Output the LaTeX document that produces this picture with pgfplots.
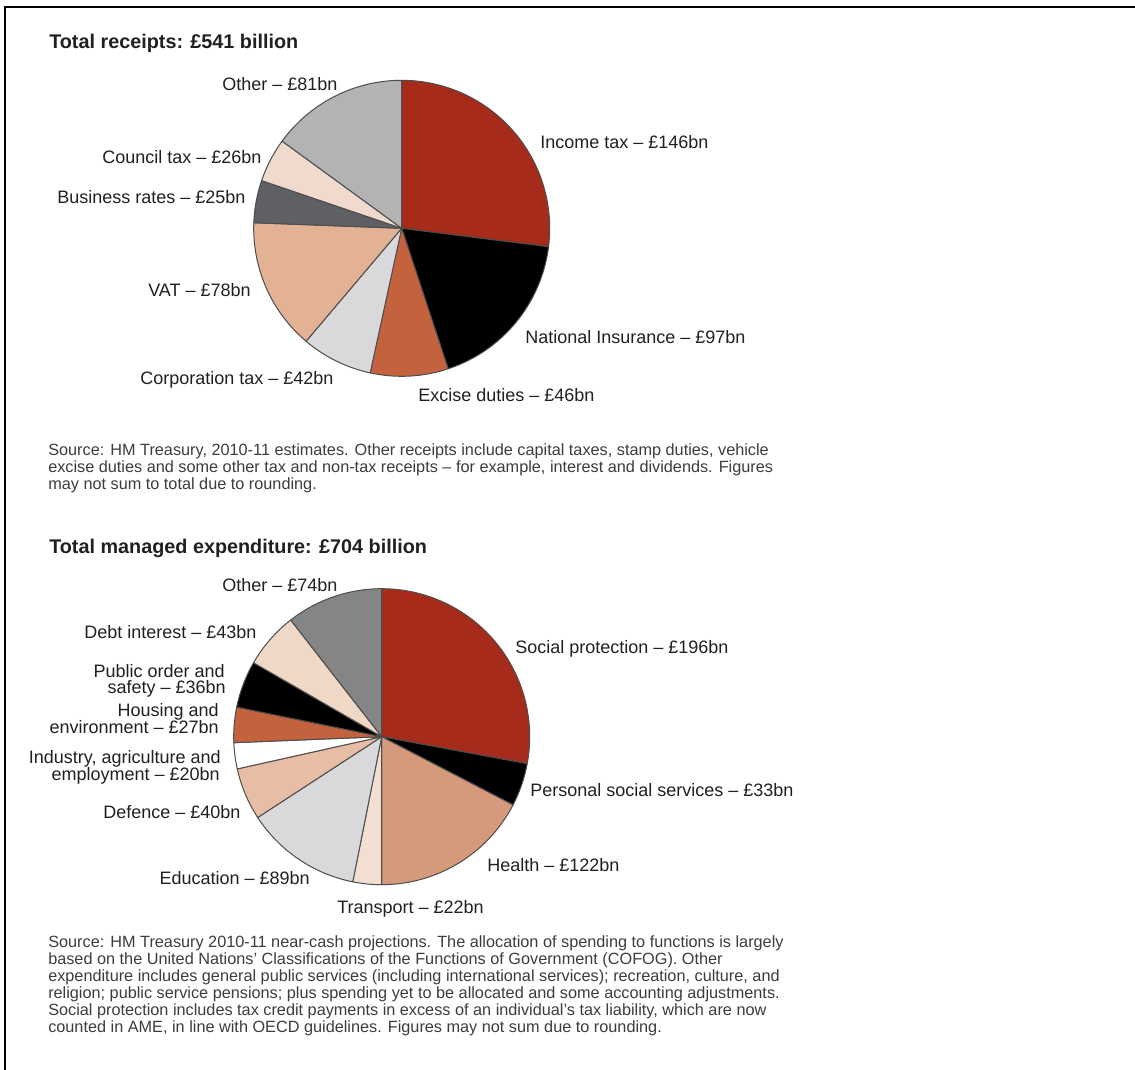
\documentclass[border=0pt]{standalone}
\usepackage{pgfplots}
\pgfplotsset{compat=1.18}
\usepackage{fontspec}
\setmainfont{Liberation Sans}

\definecolor{cIncome}{HTML}{A62B1A}
\definecolor{cNI}{HTML}{000000}
\definecolor{cExcise}{HTML}{C4623E}
\definecolor{cCorp}{HTML}{D9D9DB}
\definecolor{cVAT}{HTML}{E3B194}
\definecolor{cBiz}{HTML}{5F6064}
\definecolor{cCouncil}{HTML}{F0DACD}
\definecolor{cOtherR}{HTML}{B3B3B3}
\definecolor{cSocial}{HTML}{A62B1A}
\definecolor{cPSS}{HTML}{000000}
\definecolor{cHealth}{HTML}{D59A7C}
\definecolor{cTransport}{HTML}{F2DFD2}
\definecolor{cEducation}{HTML}{D9D9DB}
\definecolor{cDefence}{HTML}{E8BDA5}
\definecolor{cIndustry}{HTML}{FFFFFF}
\definecolor{cHousing}{HTML}{C4623E}
\definecolor{cPublic}{HTML}{000000}
\definecolor{cDebt}{HTML}{F0D8C6}
\definecolor{cOtherE}{HTML}{858585}
\definecolor{cEdge}{HTML}{4D4D4D}
\definecolor{cText}{HTML}{202020}
\definecolor{cSrc}{HTML}{3C3C3C}

\newcommand\pieR{111pt}
% a plot mark that draws one pie slice from the per-point values
\pgfdeclareplotmark{wedge}{%
  \pgfmathsetmacro\angA{90-(\slicecum-\sliceval)/\pietotal*360}%
  \pgfmathsetmacro\angB{90-\slicecum/\pietotal*360}%
  \pgfsetfillcolor{\slicecol}%
  \pgfsetstrokecolor{cEdge}%
  \pgfsetlinewidth{0.75pt}%
  \pgfsetroundjoin
  \pgfpathmoveto{\pgfpointorigin}%
  \pgfpathlineto{\pgfpointpolar{\angA}{\pieR}}%
  \pgfpatharc{\angA}{\angB}{\pieR}%
  \pgfpathclose
  \pgfusepathqfillstroke
}
\pgfplotsset{
  pie/.style={
    only marks, mark=wedge,
    visualization depends on={value \thisrow{value}\as\sliceval},
    visualization depends on={value \thisrow{cum}\as\slicecum},
    visualization depends on={value \thisrow{col}\as\slicecol},
  },
  pieaxis/.style={hide axis, scale only axis, width=222pt, height=222pt,
    xmin=-1, xmax=1, ymin=-1, ymax=1, clip=false, anchor=center},
}

\tikzset{
  lbl/.style={font=\fontsize{13.5pt}{12.75pt}\selectfont, text=cText, inner sep=0pt},
  ttl/.style={font=\bfseries\fontsize{14.85pt}{16pt}\selectfont, text=cText, inner sep=0pt, anchor=base west},
  src/.style={font=\fontsize{12.2pt}{12.75pt}\selectfont, text=cSrc, inner sep=0pt, anchor=base west},
}

\begin{document}
\begin{tikzpicture}[x=0.75pt,y=-0.75pt]
\path (0,0) rectangle (1135,1070);
\draw[line width=1.9pt] (1135,7) -- (5,7) -- (5,1070);

% ---------- receipts ----------
\node[ttl] at (49,48.3) {Total receipts: £541 billion};
\def\pietotal{541}
\begin{axis}[pieaxis, at={(301.275pt,-171.225pt)}]
% slices clockwise from 12 o'clock; cum = running total (bn)
\addplot[pie] table[x=x, y=y] {
x y value cum col
0 0 146 146 cIncome
0 0 97  243 cNI
0 0 46  289 cExcise
0 0 42  331 cCorp
0 0 78  409 cVAT
0 0 25  434 cBiz
0 0 26  460 cCouncil
0 0 81  541 cOtherR
};
\end{axis}
\node[lbl,anchor=base west] at (222,91) {Other – £81bn};
\node[lbl,anchor=base west] at (540,149) {Income tax – £146bn};
\node[lbl,anchor=base west] at (102,164) {Council tax – £26bn};
\node[lbl,anchor=base west] at (57,204) {Business rates – £25bn};
\node[lbl,anchor=base west] at (148,296) {VAT – £78bn};
\node[lbl,anchor=base west] at (525,343.5) {National Insurance – £97bn};
\node[lbl,anchor=base west] at (140,384.5) {Corporation tax – £42bn};
\node[lbl,anchor=base west] at (418,401) {Excise duties – £46bn};

\node[src] at (48,455) {Source: HM Treasury, 2010-11 estimates. Other receipts include capital taxes, stamp duties, vehicle};
\node[src] at (48,472) {excise duties and some other tax and non-tax receipts – for example, interest and dividends. Figures};
\node[src] at (48,489) {may not sum to total due to rounding.};

% ---------- expenditure ----------
\node[ttl] at (49,553.3) {Total managed expenditure: £704 billion};
\def\pietotal{702}
\begin{axis}[pieaxis, at={(286.275pt,-552.525pt)}]
\addplot[pie] table[x=x, y=y] {
x y value cum col
0 0 196 196 cSocial
0 0 33  229 cPSS
0 0 122 351 cHealth
0 0 22  373 cTransport
0 0 89  462 cEducation
0 0 40  502 cDefence
0 0 20  522 cIndustry
0 0 27  549 cHousing
0 0 36  585 cPublic
0 0 43  628 cDebt
0 0 74  702 cOtherE
};
\end{axis}
\node[lbl,anchor=base west] at (222,591) {Other – £74bn};
\node[lbl,anchor=base west] at (84,638) {Debt interest – £43bn};
\node[lbl,anchor=base west] at (515,653) {Social protection – £196bn};
\node[lbl,anchor=base east] at (225,677) {Public order and};
\node[lbl,anchor=base east] at (226,693) {safety – £36bn};
\node[lbl,anchor=base east] at (219,716) {Housing and};
\node[lbl,anchor=base east] at (219,733) {environment – £27bn};
\node[lbl,anchor=base east] at (221,763) {Industry, agriculture and};
\node[lbl,anchor=base east] at (220,780) {employment – £20bn};
\node[lbl,anchor=base west] at (103,818) {Defence – £40bn};
\node[lbl,anchor=base west] at (530,796) {Personal social services – £33bn};
\node[lbl,anchor=base west] at (487,871) {Health – £122bn};
\node[lbl,anchor=base east] at (310,884) {Education – £89bn};
\node[lbl,anchor=base west] at (337,913) {Transport – £22bn};

\node[src] at (48,947) {Source: HM Treasury 2010-11 near-cash projections. The allocation of spending to functions is largely};
\node[src] at (48,964) {based on the United Nations’ Classifications of the Functions of Government (COFOG). Other};
\node[src] at (48,981) {expenditure includes general public services (including international services); recreation, culture, and};
\node[src] at (48,998) {religion; public service pensions; plus spending yet to be allocated and some accounting adjustments.};
\node[src] at (48,1015) {Social protection includes tax credit payments in excess of an individual’s tax liability, which are now};
\node[src] at (48,1032) {counted in AME, in line with OECD guidelines. Figures may not sum due to rounding.};

\pgfresetboundingbox
\useasboundingbox (0,0) rectangle (1135,1070);
\end{tikzpicture}
\end{document}
